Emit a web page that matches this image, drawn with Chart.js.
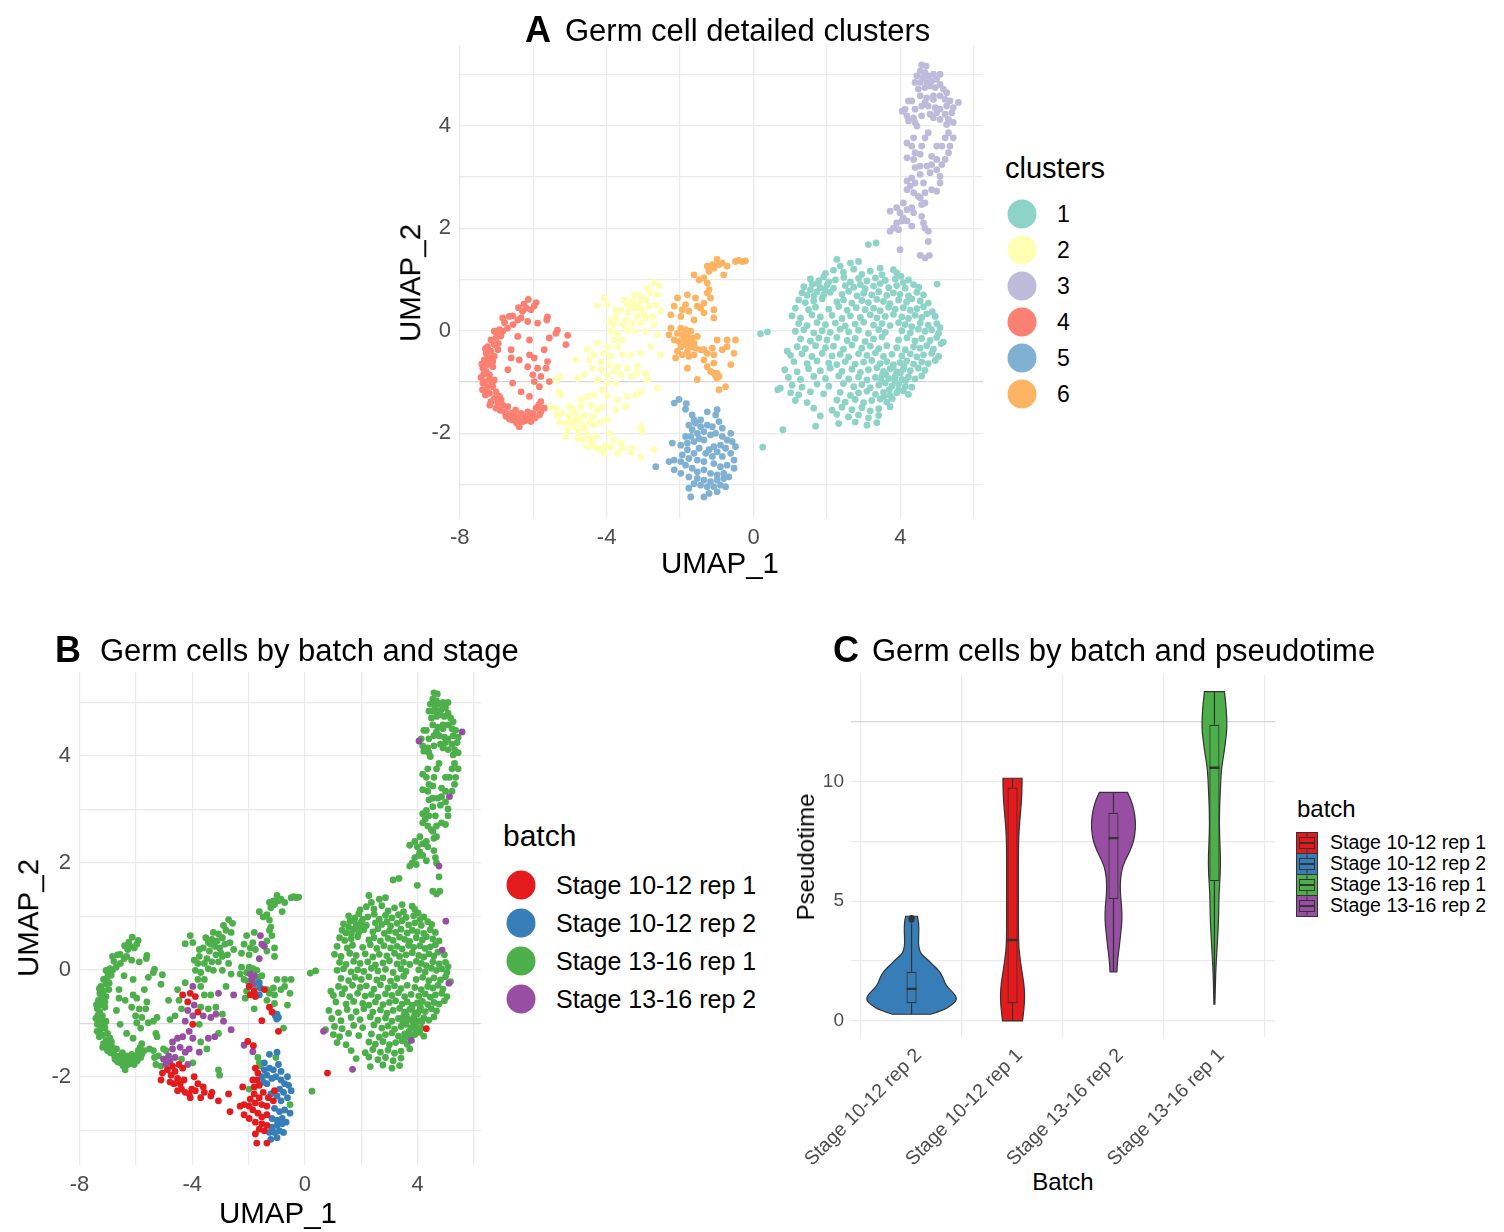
<!DOCTYPE html>
<html>
<head>
<meta charset="utf-8">
<script src="https://cdn.jsdelivr.net/npm/chart.js@4.4.1/dist/chart.umd.min.js"></script>
<style>
  body { margin: 0; background: #fff; }
  #fig { position: relative; width: 1504px; height: 1232px; overflow: hidden; background: #fff;
         font-family: "Liberation Sans", Arial, Helvetica, sans-serif; color: #000; }
  canvas { position: absolute; }
  .t { position: absolute; white-space: nowrap; line-height: 1; }
  .vc { transform: translateY(-50%); }
  .cc { transform: translate(-50%, -50%); }
  .rot { transform: translate(-50%, -50%) rotate(-90deg); }
  .dot { position: absolute; border-radius: 50%; transform: translate(-50%, -50%); }
  .key { position: absolute; }
</style>
</head>
<body>
<div id="fig">
  <canvas id="chartA" width="610" height="550" style="left:380px;top:40px"></canvas>
  <canvas id="chartB" width="490" height="560" style="left:0px;top:660px"></canvas>
  <canvas id="chartC" width="510" height="500" style="left:780px;top:665px"></canvas>

  <!-- panel titles -->
  <div class="t vc" style="left:525px;top:30px;font-size:36px;font-weight:bold">A</div>
  <div class="t vc" style="left:565px;top:30px;font-size:31px">Germ cell detailed clusters</div>
  <div class="t vc" style="left:55px;top:650px;font-size:36px;font-weight:bold">B</div>
  <div class="t vc" style="left:100px;top:650px;font-size:31px">Germ cells by batch and stage</div>
  <div class="t vc" style="left:833px;top:650px;font-size:36px;font-weight:bold">C</div>
  <div class="t vc" style="left:872px;top:650px;font-size:31px">Germ cells by batch and pseudotime</div>

  <!-- axis titles -->
  <div class="t cc" style="left:720px;top:563px;font-size:29.5px">UMAP_1</div>
  <div class="t rot" style="left:410px;top:283px;font-size:29.5px">UMAP_2</div>
  <div class="t cc" style="left:278px;top:1213px;font-size:29.5px">UMAP_1</div>
  <div class="t rot" style="left:28px;top:918px;font-size:29.5px">UMAP_2</div>
  <div class="t cc" style="left:1063px;top:1182px;font-size:24px">Batch</div>
  <div class="t rot" style="left:806px;top:857px;font-size:24px">Pseudotime</div>
</div>

<script>
// ---- categories and colours ----
const clusterNames = ["1", "2", "3", "4", "5", "6"];
const clusterColors = ["#8DD3C7", "#FFFFB3", "#BEBADA", "#FB8072", "#80B1D3", "#FDB462"];
const batchNames = ["Stage 10-12 rep 1", "Stage 10-12 rep 2", "Stage 13-16 rep 1", "Stage 13-16 rep 2"];
const batchColors = ["#E41A1C", "#377EB8", "#4DAF4A", "#984EA3"];

// ---- cells: [UMAP_1, UMAP_2, batch index] grouped by cluster ----
const cluster1 = [
[2.27,1.39,2],[2.64,1.32,2],[2.86,1.35,2],[2.36,1.26,2],[3.45,1.22,2],[3.81,1.19,2],
[1.96,1.12,2],[2.18,1.18,2],[2.45,1.14,2],[2.73,1.20,2],[2.95,1.10,2],[3.18,1.16,2],[3.50,1.09,2],[3.90,1.13,2],[4.02,1.06,2],
[1.55,1.01,2],[1.78,0.97,2],[1.91,1.05,2],[2.23,0.99,2],[2.46,1.04,2],[2.64,0.95,2],[2.86,1.02,2],[3.09,0.97,2],[3.32,1.03,2],[3.59,0.98,2],[3.86,1.01,2],[4.08,0.94,2],[4.22,0.99,2],
[1.37,0.86,2],[1.60,0.91,2],[1.82,0.84,2],[2.00,0.89,2],[2.18,0.83,2],[2.50,0.88,2],[2.73,0.85,2],[2.91,0.90,2],[3.04,0.82,2],[3.27,0.87,2],[3.45,0.92,2],[3.68,0.84,2],[3.90,0.88,2],[4.13,0.83,2],[4.36,0.90,2],[4.50,0.85,2],
[1.32,0.74,2],[1.46,0.69,2],[1.73,0.76,2],[1.91,0.70,2],[2.09,0.75,2],[2.41,0.71,2],[2.59,0.77,2],[2.82,0.68,2],[3.00,0.73,2],[3.22,0.70,2],[3.41,0.76,2],[3.63,0.69,2],[3.81,0.74,2],[3.99,0.71,2],[4.22,0.68,2],[4.45,0.75,2],[4.63,0.70,2],
[1.23,0.60,2],[1.41,0.55,2],[1.64,0.58,2],[1.87,0.62,2],[2.27,0.56,2],[2.45,0.60,2],[2.68,0.54,2],[2.95,0.59,2],[3.13,0.55,2],[3.36,0.61,2],[3.54,0.57,2],[3.72,0.53,2],[3.95,0.60,2],[4.17,0.56,2],[4.31,0.62,2],[4.54,0.58,2],[4.76,0.54,2],
[1.14,0.44,2],[1.50,0.41,2],[1.69,0.46,2],[2.05,0.42,2],[2.32,0.47,2],[2.55,0.40,2],[2.80,0.45,2],[3.04,0.41,2],[3.27,0.44,2],[3.45,0.39,2],[3.68,0.46,2],[3.86,0.42,2],[4.08,0.45,2],[4.27,0.40,2],[4.45,0.43,2],[4.63,0.47,2],[4.87,0.37,3],
[1.05,0.29,2],[1.28,0.25,2],[1.59,0.31,2],[1.82,0.27,2],[2.14,0.30,2],[2.41,0.24,2],[2.64,0.29,2],[2.91,0.26,2],[3.18,0.31,2],[3.36,0.25,2],[3.59,0.28,2],[3.81,0.32,2],[4.04,0.27,2],[4.22,0.24,2],[4.40,0.30,2],[4.58,0.26,2],[4.72,0.33,2],[4.95,0.28,2],
[1.23,0.14,2],[1.46,0.10,2],[1.73,0.16,2],[1.96,0.12,2],[2.23,0.15,2],[2.50,0.09,2],[2.77,0.13,2],[3.00,0.17,2],[3.27,0.11,2],[3.50,0.14,2],[3.72,0.10,2],[3.95,0.16,2],[4.13,0.12,2],[4.31,0.08,2],[4.54,0.15,2],[4.76,0.11,2],[4.99,0.14,2],[5.08,0.06,2],
[1.14,-0.01,2],[1.37,0.02,2],[1.64,-0.04,2],[1.87,0.00,2],[2.09,-0.03,2],[2.36,0.03,2],[2.59,-0.02,2],[2.86,0.01,2],[3.13,-0.05,2],[3.41,0.02,2],[3.59,-0.03,2],[4.04,0.00,2],[4.27,-0.04,2],[4.49,0.03,2],[4.67,-0.01,2],[4.85,0.02,2],[5.04,-0.05,2],
[1.28,-0.16,2],[1.55,-0.20,2],[1.78,-0.14,2],[2.00,-0.18,2],[2.27,-0.13,2],[2.55,-0.19,2],[2.77,-0.15,2],[3.04,-0.21,2],[3.27,-0.16,2],[3.50,-0.12,2],[3.95,-0.18,2],[4.18,-0.14,2],[4.40,-0.20,2],[4.58,-0.15,2],[4.81,-0.19,2],[4.99,-0.13,2],[5.17,-0.22,2],
[0.92,-0.40,2],[1.19,-0.31,2],[1.41,-0.35,2],[1.69,-0.29,2],[1.96,-0.33,2],[2.18,-0.30,2],[2.45,-0.36,2],[2.68,-0.28,2],[2.95,-0.34,2],[3.18,-0.30,2],[3.41,-0.35,2],[3.63,-0.29,2],[3.90,-0.33,2],[4.13,-0.37,2],[4.36,-0.31,2],[4.54,-0.34,2],[4.72,-0.29,2],[4.90,-0.36,2],[5.11,-0.25,3],
[1.01,-0.48,2],[1.32,-0.45,2],[1.59,-0.50,2],[1.87,-0.44,2],[2.14,-0.49,2],[2.36,-0.46,2],[2.59,-0.51,2],[2.86,-0.45,2],[3.09,-0.48,2],[3.32,-0.43,2],[3.54,-0.50,2],[3.77,-0.46,2],[4.04,-0.49,2],[4.27,-0.45,2],[4.45,-0.51,2],[4.63,-0.47,2],[4.85,-0.44,2],[5.04,-0.50,2],
[1.10,-0.60,2],[1.46,-0.64,2],[1.73,-0.59,2],[2.05,-0.63,2],[2.27,-0.66,2],[2.50,-0.60,2],[2.77,-0.65,2],[3.00,-0.61,2],[3.22,-0.58,2],[3.45,-0.64,2],[3.63,-0.60,2],[3.81,-0.66,2],[3.99,-0.62,2],[4.17,-0.59,2],[4.36,-0.65,2],[4.58,-0.61,2],[4.76,-0.64,2],[4.95,-0.58,2],
[0.85,-0.76,2],[1.19,-0.80,2],[1.50,-0.74,2],[1.82,-0.78,2],[2.09,-0.73,2],[2.41,-0.79,2],[2.68,-0.75,2],[2.91,-0.81,2],[3.13,-0.76,2],[3.36,-0.72,2],[3.54,-0.79,2],[3.72,-0.74,2],[3.90,-0.80,2],[4.08,-0.75,2],[4.27,-0.78,2],[4.49,-0.73,2],[4.67,-0.77,2],
[0.95,-0.91,2],[1.28,-0.95,2],[1.64,-0.89,2],[1.96,-0.93,2],[2.32,-0.88,2],[2.59,-0.94,2],[2.86,-0.90,2],[3.09,-0.96,2],[3.32,-0.91,2],[3.50,-0.87,2],[3.68,-0.93,2],[3.86,-0.89,2],[4.04,-0.95,2],[4.22,-0.90,2],[4.40,-0.94,2],[4.58,-0.88,2],
[0.73,-1.12,2],[1.05,-1.06,2],[1.32,-1.10,2],[1.73,-1.04,2],[2.05,-1.08,2],[2.45,-1.03,2],[2.73,-1.09,2],[2.95,-1.05,2],[3.18,-1.11,2],[3.41,-1.06,2],[3.59,-1.02,2],[3.77,-1.08,2],[3.95,-1.04,2],[4.13,-1.09,2],[4.31,-1.10,0],
[1.01,-1.21,2],[1.23,-1.25,2],[1.55,-1.19,2],[1.91,-1.23,2],[2.36,-1.20,2],[2.64,-1.26,2],[2.86,-1.21,2],[3.09,-1.18,2],[3.32,-1.24,2],[3.54,-1.20,2],[3.72,-1.26,2],[3.90,-1.21,2],[4.08,-1.17,2],[4.22,-1.24,2],
[1.14,-1.36,2],[1.46,-1.40,2],[2.27,-1.35,2],[2.50,-1.39,2],[2.77,-1.34,2],[3.00,-1.40,2],[3.22,-1.36,2],[3.45,-1.33,2],[3.63,-1.39,2],[3.78,-1.32,3],
[1.64,-1.51,2],[2.14,-1.55,2],[2.41,-1.49,2],[2.68,-1.54,2],[2.95,-1.50,2],[3.18,-1.56,2],[3.41,-1.52,2],[3.72,-1.48,2],
[1.82,-1.66,2],[2.27,-1.63,2],[2.59,-1.68,2],[2.86,-1.64,2],[3.13,-1.70,2],[3.41,-1.65,2],
[2.32,-1.81,2],[2.77,-1.78,2],[3.09,-1.84,2],[3.36,-1.79,2],
[3.60,-0.85,2],[3.85,-0.98,2],[4.00,-0.82,2],[3.70,-1.15,2],[3.95,-1.15,2],[4.15,-0.97,2],[3.48,-0.98,2],[3.80,-0.70,2],[4.10,-0.70,2],[3.55,-1.28,2],
[1.55,0.80,2],[1.75,0.92,2],[2.05,0.95,2],[1.65,0.68,2],[1.95,0.80,2],
[0.19,-0.06,2],[0.38,-0.02,2],[3.13,1.68,2],[3.34,1.71,2],[0.80,-1.93,0],[1.69,-1.86,3],[5.00,0.91,3],[0.66,-1.15,3],[0.25,-2.27,2]
];

const cluster2 = [
[-2.71,0.94,2],[-2.57,0.87,2],[-2.80,0.74,2],[-2.62,0.70,2],[-3.07,0.67,2],[-3.25,0.70,2],[-3.30,0.57,2],[-3.12,0.54,2],[-2.93,0.60,2],[-3.43,0.51,2],
[-3.20,0.44,2],[-3.03,0.41,2],[-2.84,0.48,2],[-2.66,0.51,2],[-2.53,0.38,2],[-3.61,0.41,2],[-3.39,0.35,2],[-3.16,0.28,2],[-2.93,0.25,2],[-2.75,0.28,2],
[-3.48,0.21,2],[-3.30,0.15,2],[-3.07,0.15,2],[-3.75,0.25,2],[-3.57,0.12,2],[-3.80,0.12,2],[-3.89,-0.01,2],[-3.70,-0.05,2],[-3.43,0.02,2],[-3.25,-0.01,2],
[-2.93,-0.01,2],[-2.62,-0.08,2],[-2.71,0.12,2],[-3.98,0.51,2],[-4.07,0.64,2],[-4.25,0.49,2],[-2.89,0.83,2],[-3.52,0.60,2],[-3.34,0.48,2],[-2.98,0.31,2],
[-3.75,0.38,2],[-3.93,0.18,2],
[-3.80,-0.18,2],[-3.57,-0.18,2],[-3.98,-0.31,3],[-3.70,-0.31,2],[-4.25,-0.24,2],[-4.52,-0.37,2],[-4.34,-0.47,0],[-4.07,-0.44,0],[-3.89,-0.50,0],[-3.57,-0.47,2],
[-3.34,-0.47,2],[-3.07,-0.44,3],[-2.80,-0.31,2],[-2.53,-0.47,3],[-4.16,-0.60,0],[-3.93,-0.66,3],[-3.70,-0.70,2],[-3.43,-0.73,2],[-3.16,-0.70,2],[-2.93,-0.83,2],
[-3.61,-0.86,3],[-4.16,-0.76,3],[-4.38,-0.73,2],[-3.98,-0.86,3],[-4.61,-0.86,2],[-4.79,-0.93,2],[-4.25,-0.96,3],[-3.98,-1.02,0],[-3.75,-1.02,2],[-2.89,-0.96,3],
[-2.62,-1.12,3],[-3.16,-0.83,3],[-3.34,-0.89,3],[-4.47,-0.57,2],[-4.84,-0.57,2],[-3.80,-0.79,0],[-4.11,-1.15,3],[-4.34,-1.25,3],[-4.52,-1.28,3],[-3.98,-1.28,3],
[-3.70,-1.35,2],[-3.43,-1.28,3],[-3.20,-1.25,3],[-3.07,-1.19,2],[-3.48,-1.48,2],[-3.75,-1.54,3],[-4.11,-1.48,3],
[-5.52,-1.48,2],[-5.38,-1.51,2],[-5.25,-1.25,2],[-5.29,-1.19,2],[-5.20,-1.61,2],[-5.02,-1.67,3],[-5.29,-1.77,2],[-5.11,-1.80,2],[-4.93,-1.77,3],[-4.79,-1.71,3],
[-4.88,-1.87,0],[-4.70,-1.80,0],[-5.06,-1.93,0],[-4.75,-1.97,0],[-4.61,-1.90,0],[-4.52,-2.03,0],[-4.79,-2.10,0],[-4.65,-2.13,0],[-4.43,-2.13,0],[-4.29,-2.06,0],
[-4.38,-2.23,0],[-4.52,-2.26,0],[-4.25,-2.29,0],[-4.11,-2.32,0],[-4.02,-2.23,0],[-4.07,-2.39,0],[-4.84,-1.61,3],[-4.61,-1.64,3],[-4.47,-1.77,0],[-4.34,-1.84,0],
[-4.16,-1.77,3],[-3.98,-1.74,2],[-4.25,-1.54,3],[-4.70,-1.48,3],[-4.43,-1.45,3],[-5.11,-2.06,0],[-3.89,-2.26,0],[-3.61,-2.19,0],[-3.57,-2.29,0],[-3.70,-2.39,0],
[-3.34,-2.36,0],[-3.07,-2.45,0],[-3.30,-2.29,0],[-3.80,-2.13,0],[-3.93,-2.00,0],[-2.71,-2.32,0],[-3.07,-1.87,2],[-3.03,-1.97,2],[-4.93,-1.51,2],[-5.34,-1.64,2],
[-5.02,-1.48,2],[-4.70,-1.35,3],[-4.38,-1.67,2],[-5.25,-0.89,2],[-5.38,-0.96,2]
];

const cluster3 = [
[4.58,5.18,2],[4.70,5.16,2],[4.54,5.06,2],[4.67,5.03,2],[4.45,4.97,2],[4.61,4.93,2],[4.76,4.97,2],[4.90,5.00,2],[5.08,5.00,2],[4.99,4.90,2],
[4.85,4.87,2],[4.72,4.84,2],[4.54,4.84,2],[4.40,4.84,2],[4.49,4.71,2],[4.67,4.74,2],[4.81,4.77,2],[4.95,4.74,2],[5.08,4.80,2],[5.17,4.71,2],
[5.26,4.64,2],[5.08,4.58,2],[4.90,4.58,2],[4.72,4.54,2],[4.54,4.58,2],[4.67,4.45,2],[4.90,4.51,2],[5.22,4.51,2],[5.35,4.48,2],[5.58,4.45,3],
[4.22,4.48,2],[4.31,4.48,2],[4.13,4.32,2],[4.40,4.32,2],[4.58,4.38,2],[4.76,4.38,2],[4.95,4.35,2],[5.08,4.32,2],[5.26,4.38,2],[5.44,4.35,2],
[5.40,4.25,2],[5.22,4.22,2],[4.99,4.25,2],[4.81,4.22,2],[4.58,4.19,2],[4.36,4.15,2],[4.18,4.19,2],[4.22,4.09,2],[4.40,4.06,2],[4.45,3.99,2],
[5.08,4.12,2],[5.31,4.12,2],[5.44,4.06,2],[5.26,4.02,2],[4.90,4.15,2],[4.05,4.28,3],
[4.76,3.86,2],[4.67,3.76,2],[4.36,3.76,2],[4.18,3.66,2],[4.31,3.60,2],[4.58,3.60,2],[4.40,3.47,2],[4.54,3.44,2],[4.18,3.37,2],[4.36,3.34,2],
[4.85,3.40,2],[4.99,3.34,2],[5.22,3.34,2],[5.31,3.47,2],[5.35,3.60,2],[5.31,3.86,2],[5.22,3.76,2],[5.13,3.60,2],[5.44,3.76,2],[4.99,3.60,2],
[4.40,3.18,2],[4.54,3.21,2],[4.72,3.21,2],[4.85,3.24,2],[4.99,3.14,2],[5.08,3.01,2],[5.13,3.24,3],[4.81,3.08,2],[4.54,3.05,2],[4.31,2.98,2],
[4.18,2.92,2],[4.27,2.82,2],[4.40,2.88,2],[4.18,2.75,2],[4.36,2.69,2],[4.49,2.62,2],[4.67,2.69,2],[4.85,2.75,2],[4.99,2.72,2],[5.08,2.88,2],[4.63,2.88,2],
[4.08,2.49,2],[3.90,2.40,2],[3.72,2.33,2],[3.99,2.30,2],[4.18,2.36,2],[4.31,2.40,2],[4.54,2.59,2],[4.58,2.46,2],[4.67,2.49,2],[4.36,2.30,2],
[4.08,2.20,2],[3.90,2.10,2],[4.18,2.14,2],[4.31,2.04,2],[4.04,2.14,2],[3.81,2.00,2],[3.95,1.97,2],[3.72,1.94,2],[4.63,2.10,2],[4.67,2.00,2],
[4.76,1.94,3],[4.58,2.23,2],[4.76,1.74,2],[3.99,1.58,2],[4.54,1.47,2],[4.67,1.42,2],[4.79,1.47,2]
];

const cluster4 = [
[-6.13,0.61,2],[-5.92,0.55,2],[-6.19,0.44,2],[-6.06,0.41,2],[-6.29,0.38,2],[-5.97,0.48,2],[-6.33,0.25,2],[-6.15,0.18,2],[-6.42,0.21,2],[-6.56,0.29,2],
[-6.65,0.28,2],[-6.83,0.25,2],[-6.78,0.16,2],[-6.92,0.02,2],[-7.06,-0.01,2],[-6.83,-0.01,2],[-5.61,0.27,2],[-5.63,0.21,2],[-5.34,0.01,2],[-5.56,-0.14,2],
[-5.88,0.15,2],[-5.06,-0.09,2],[-5.11,-0.27,2],[-5.38,-0.05,2],
[-7.15,-0.18,2],[-7.01,-0.14,2],[-7.24,-0.31,2],[-7.06,-0.27,2],[-7.15,-0.40,2],[-7.28,-0.44,2],[-6.96,-0.37,2],[-7.19,-0.53,2],[-7.33,-0.57,2],[-7.06,-0.50,2],
[-7.24,-0.66,2],[-7.37,-0.73,2],[-7.10,-0.70,2],[-7.28,-0.79,2],[-7.42,-0.91,2],[-7.19,-0.86,2],[-7.33,-0.99,2],[-7.06,-0.96,2],[-7.24,-1.09,2],[-7.37,-1.02,2],
[-7.10,-1.09,2],[-7.19,-1.22,2],[-7.01,-1.19,2],[-7.28,-1.15,2],[-7.06,-1.32,2],[-6.92,-1.28,2],[-7.15,-1.38,2],[-6.96,-1.41,2],[-6.83,-1.45,2],[-7.01,-1.51,2],
[-6.78,-1.58,2],[-6.69,-1.48,2],[-6.60,-1.61,2],[-6.74,-1.67,2],[-6.51,-1.64,2],[-6.42,-1.71,2],[-6.56,-1.74,2],[-6.33,-1.61,2],[-6.24,-1.67,2],[-6.15,-1.58,2],
[-6.10,-1.67,2],[-6.29,-1.77,2],[-6.01,-1.61,2],[-5.92,-1.51,2],[-5.79,-1.58,2],[-5.70,-1.51,2],[-5.83,-1.64,2],[-6.38,-1.87,2],[-6.06,-1.77,2],[-6.87,-1.35,2],
[-7.30,-0.35,2],[-7.35,-0.85,2],[-7.40,-0.65,2],[-7.20,-0.95,2],[-7.12,-1.02,2],[-7.30,-1.25,2],[-7.18,-1.45,2],[-6.90,-1.55,2],[-6.65,-1.72,2],[-6.45,-1.80,2],
[-6.20,-1.75,2],[-5.95,-1.70,2],[-7.00,-0.05,2],[-7.10,-0.60,2],[-7.38,-1.15,2],[-7.26,-0.55,2],[-6.95,-0.25,2],[-6.75,-1.62,2],[-6.48,-1.55,2],[-5.85,-1.45,2],
[-6.55,0.12,2],[-6.40,0.45,2],[-6.25,0.52,2],[-6.70,0.05,2],[-6.88,-0.10,2],
[-6.60,-0.53,2],[-6.38,-0.57,2],[-6.10,-0.47,2],[-5.97,-0.53,2],[-5.70,-0.37,2],[-6.15,-0.70,2],[-5.88,-0.73,2],[-6.01,-0.86,2],[-5.79,-0.89,2],[-6.33,-1.19,2],
[-5.97,-0.99,2],[-5.56,-0.99,2],[-5.65,-0.73,2],[-6.60,-0.37,2],[-6.42,-0.11,2],[-6.10,-0.18,2],[-6.69,-0.76,2],[-6.56,-1.02,2],[-5.61,-0.60,2],[-5.83,-1.09,2],
[-6.10,-1.28,2],[-5.79,-1.38,2]
];

const cluster5 = [
[-2.16,-1.41,3],[-2.03,-1.34,0],[-1.85,-1.53,3],[-1.83,-1.42,0],[-1.26,-1.58,1],[-0.99,-1.54,1],[-1.03,-1.64,2],[-1.62,-1.74,2],
[-1.76,-1.84,0],[-1.58,-1.80,2],[-1.44,-1.87,1],[-1.67,-1.93,0],[-1.53,-2.00,1],[-1.35,-1.97,1],[-1.71,-2.06,0],[-1.48,-2.10,1],[-1.62,-2.16,0],[-1.35,-2.13,1],
[-1.80,-2.19,0],[-1.17,-2.03,1],[-1.26,-1.84,1],[-1.12,-1.87,1],[-0.94,-1.77,1],[-1.03,-2.00,1],[-0.85,-2.06,1],[-0.72,-2.13,1],[-0.58,-2.16,1],[-0.90,-2.23,1],
[-1.08,-2.26,0],[-1.21,-2.32,1],[-0.99,-2.36,1],[-0.76,-2.29,1],[-0.62,-2.39,1],[-0.85,-2.45,1],[-1.12,-2.45,0],[-1.30,-2.39,0],[-1.48,-2.29,0],[-1.62,-2.39,0],
[-1.80,-2.32,0],[-1.94,-2.42,0],[-1.76,-2.49,0],[-1.53,-2.52,0],[-1.35,-2.55,0],[-1.08,-2.59,1],[-0.90,-2.65,1],[-0.72,-2.62,1],[-0.53,-2.68,1],[-0.81,-2.78,1],
[-0.99,-2.81,1],[-1.17,-2.78,1],[-1.35,-2.71,0],[-1.53,-2.75,0],[-1.67,-2.68,0],[-1.85,-2.62,0],[-1.98,-2.55,0],[-2.16,-2.71,0],[-1.98,-2.78,0],[-1.76,-2.85,0],
[-1.53,-2.88,0],[-1.35,-2.91,0],[-1.17,-2.94,1],[-0.99,-2.91,1],[-0.81,-2.88,1],[-0.67,-2.85,1],[-1.26,-3.04,1],[-1.44,-3.01,0],[-1.62,-2.98,0],[-1.76,-3.07,0],
[-1.08,-3.04,1],[-0.90,-3.01,1],[-1.21,-3.17,1],[-1.35,-3.24,0],[-1.71,-3.24,0],[-0.99,-3.14,1],[-0.76,-3.04,1],[-0.53,-2.52,2],[-0.49,-2.26,1],[-0.62,-2.00,1],
[-2.16,-2.52,0],[-2.30,-2.55,0],[-2.66,-2.65,0],[-2.21,-2.19,0],[-1.98,-2.23,2],[-1.85,-2.06,0],[-1.67,-1.64,2],[-1.44,-1.74,1],[-0.85,-1.90,1]
];

const cluster6 = [
[-1.62,1.09,2],[-1.35,1.03,2],[-1.48,0.99,2],[-1.21,1.16,2],[-1.12,1.29,2],[-0.99,1.39,2],[-0.85,1.32,2],[-0.72,1.26,2],[-0.81,1.09,2],[-0.49,1.35,2],
[-0.31,1.35,2],[-0.40,1.37,2],[-1.08,1.22,2],[-1.26,1.26,2],[-0.94,1.29,2],[-0.22,1.36,2],
[-1.26,0.74,2],[-1.17,0.64,2],[-1.35,0.54,2],[-1.44,0.44,3],[-1.26,0.93,2],[-1.80,0.70,2],[-2.07,0.64,2],[-1.85,0.51,2],[-1.94,0.41,2],[-1.76,0.38,2],
[-1.98,0.28,2],[-2.25,0.31,2],[-1.62,0.21,3],[-1.35,0.35,2],[-1.08,0.25,2],[-1.08,0.41,2],[-1.21,0.80,2],[-1.53,0.48,3],[-2.16,0.48,2],[-1.58,0.64,3],
[-1.98,0.05,2],[-1.85,0.02,2],[-1.71,-0.01,2],[-2.07,-0.05,2],[-1.94,-0.08,3],[-1.80,-0.11,3],[-1.67,-0.14,2],[-1.89,-0.18,3],[-1.76,-0.21,2],[-2.03,-0.21,2],
[-1.62,-0.24,1],[-1.85,-0.27,3],[-1.98,-0.31,0],[-1.71,-0.31,2],[-2.16,-0.18,2],[-2.30,-0.08,2],[-2.25,0.05,2],[-1.53,-0.11,2],[-1.58,-0.34,1],[-1.80,-0.40,0],
[-2.07,-0.40,2],[-1.44,-0.37,0],[-1.94,-0.47,0],[-1.76,-0.50,0],[-2.12,-0.53,2],[-1.62,-0.47,1],
[-1.26,-0.44,2],[-0.99,-0.18,2],[-0.72,-0.18,2],[-0.49,-0.18,2],[-0.72,-0.31,2],[-0.53,-0.44,2],[-0.62,-0.66,2],[-1.08,-0.63,2],[-1.26,-0.70,0],[-1.80,-0.73,2],
[-0.99,-0.83,1],[-0.94,-0.89,1],[-0.76,-1.09,2],[-0.94,-1.15,0],[-1.35,-0.37,2],[-1.12,-0.34,2],[-1.08,-0.47,2],[-0.85,-0.37,2],[-1.17,-0.79,0],[-1.35,-0.57,2],
[-1.05,-0.86,1],[-1.00,-0.92,1],[-1.08,-0.82,1],[-1.53,-0.95,0]
];

// ---- violin panel: batches in axis order ----
const violinBatches = ["Stage 10-12 rep 2", "Stage 10-12 rep 1", "Stage 13-16 rep 2", "Stage 13-16 rep 1"];
const violinColors = ["#377EB8", "#E41A1C", "#984EA3", "#4DAF4A"];
// density outline per batch: [pseudotime, relative density], bottom to top
const densityS1012r2 = [[0.28,0.42],[0.46,0.71],[0.67,0.89],[0.88,1.00],[1.09,0.96],[1.30,0.85],[1.51,0.75],[1.72,0.71],[1.93,0.66],[2.14,0.58],[2.34,0.47],[2.55,0.36],[2.76,0.22],[2.97,0.17],[3.25,0.15],[3.67,0.16],[4.09,0.16],[4.37,0.13]];
const densityS1012r1 = [[0.00,0.22],[0.46,0.25],[1.02,0.27],[1.58,0.25],[2.14,0.20],[2.69,0.16],[3.25,0.13],[5.35,0.13],[7.30,0.13],[8.00,0.145],[8.56,0.17],[9.26,0.20],[9.82,0.21],[10.13,0.21]];
const densityS1316r2 = [[2.05,0.076],[2.55,0.09],[3.11,0.13],[3.67,0.16],[4.23,0.19],[4.79,0.18],[5.35,0.15],[5.91,0.15],[6.47,0.20],[6.89,0.31],[7.30,0.41],[7.72,0.47],[8.28,0.49],[8.84,0.45],[9.26,0.38],[9.54,0.31]];
const densityS1316r1 = [[0.70,0.01],[1.40,0.02],[2.10,0.03],[2.79,0.05],[3.63,0.076],[4.47,0.095],[5.31,0.10],[6.15,0.13],[6.85,0.135],[7.82,0.11],[8.80,0.11],[9.78,0.135],[10.48,0.15],[11.18,0.21],[11.74,0.25],[12.30,0.28],[13.00,0.26],[13.42,0.24],[13.75,0.22]];
const violinDensity = [densityS1012r2, densityS1012r1, densityS1316r2, densityS1316r1];
// boxplot summaries: [lower whisker, q1, median, q3, upper whisker]
const boxStats = [[0.28,0.74,1.34,2.05,4.07],[0.00,0.74,3.38,9.74,10.13],[2.05,5.09,7.63,8.69,9.53],[0.70,5.83,10.57,12.36,13.75]];
const outliers = [[0,4.22],[0,4.30]];

// ---- ticks ----
const umapXTicks = [-8, -4, 0, 4];
const umapYTicks = [-2, 0, 2, 4];
const pseudoTicks = [0, 5, 10];

const FONT = '"Liberation Sans", Arial, Helvetica, sans-serif';
Chart.defaults.font.family = FONT;
Chart.defaults.animation = false;

const clusters = [cluster1, cluster2, cluster3, cluster4, cluster5, cluster6];
const allCells = clusters.flat();

function gridColor(darkValue) {
  return ctx => (ctx.tick && ctx.tick.value === darkValue) ? '#D7D7D7' : '#EBEBEB';
}
// fixed axis sizes so the plotting area sits exactly where intended
function fixX(h) { return s => { s.height = h; s.paddingLeft = 0; s.paddingRight = 0; }; }
function fixY(w) { return s => { s.width = w; s.paddingTop = 0; s.paddingBottom = 0; }; }

function umapScales(xAxisHeight) {
  return {
    x: {
      type: 'linear', min: -8.02, max: 6.25,
      ticks: { stepSize: 2, includeBounds: false, autoSkip: false, maxRotation: 0, padding: 7,
               color: '#4D4D4D', font: { size: 22 },
               callback: v => umapXTicks.includes(v) ? String(v) : '' },
      grid: { drawTicks: false, color: gridColor(null), lineWidth: 1.2 },
      border: { display: false },
      afterFit: fixX(xAxisHeight)
    },
    y: {
      type: 'linear', min: -3.65, max: 5.57,
      ticks: { stepSize: 1, includeBounds: false, autoSkip: false, padding: 8,
               color: '#4D4D4D', font: { size: 22 },
               callback: v => umapYTicks.includes(v) ? String(v) : '' },
      grid: { drawTicks: false, color: gridColor(-1), lineWidth: 1.2 },
      border: { display: false },
      afterFit: fixY(79)
    }
  };
}

const baseOpts = {
  responsive: false, devicePixelRatio: 1, events: [],
  plugins: { legend: { display: false }, tooltip: { enabled: false } }
};

// Panel A: cells coloured by cluster
new Chart(document.getElementById('chartA'), {
  type: 'scatter',
  data: {
    datasets: clusters.map((pts, i) => ({
      label: clusterNames[i],
      data: pts.map(p => ({ x: p[0], y: p[1] })),
      backgroundColor: clusterColors[i], pointRadius: 3.4, pointBorderWidth: 0
    }))
  },
  options: Object.assign({}, baseOpts, {
    layout: { padding: { top: 5, right: 7, bottom: 0, left: 0 } },
    scales: umapScales(72)
  })
});

// Panel B: same cells coloured by batch (majority batch underneath)
new Chart(document.getElementById('chartB'), {
  type: 'scatter',
  data: {
    datasets: batchNames.map((n, b) => ({
      label: n,
      data: allCells.filter(p => p[2] === b).map(p => ({ x: p[0], y: p[1] })),
      backgroundColor: batchColors[b], pointRadius: 3.4, pointBorderWidth: 0,
      order: b === 2 ? 1 : 0
    }))
  },
  options: Object.assign({}, baseOpts, {
    layout: { padding: { top: 12, right: 9, bottom: 0, left: 0 } },
    scales: umapScales(55)
  })
});

// Panel C: violins with boxplots
function smoothSide(ctx, pts, first) {
  if (first) ctx.moveTo(pts[0][0], pts[0][1]); else ctx.lineTo(pts[0][0], pts[0][1]);
  for (let i = 1; i < pts.length - 1; i++) {
    const mx = (pts[i][0] + pts[i + 1][0]) / 2, my = (pts[i][1] + pts[i + 1][1]) / 2;
    ctx.quadraticCurveTo(pts[i][0], pts[i][1], mx, my);
  }
  const last = pts[pts.length - 1];
  ctx.lineTo(last[0], last[1]);
}

const violinPlugin = {
  id: 'violins',
  beforeDatasetsDraw(chart) {
    const { ctx, scales: { x, y } } = chart;
    const half = 0.45 * (x.getPixelForValue(1) - x.getPixelForValue(0));
    ctx.save();
    violinDensity.forEach((prof, i) => {
      const cx = x.getPixelForValue(i);
      const left = prof.map(([v, d]) => [cx - d * half, y.getPixelForValue(v)]);
      const right = prof.map(([v, d]) => [cx + d * half, y.getPixelForValue(v)]).reverse();
      ctx.beginPath();
      smoothSide(ctx, left, true);
      smoothSide(ctx, right, false);
      ctx.closePath();
      ctx.fillStyle = violinColors[i];
      ctx.fill();
      ctx.lineWidth = 1.2;
      ctx.strokeStyle = '#333333';
      ctx.stroke();
    });
    // whiskers
    ctx.beginPath();
    boxStats.forEach((s, i) => {
      const cx = x.getPixelForValue(i);
      ctx.moveTo(cx, y.getPixelForValue(s[0])); ctx.lineTo(cx, y.getPixelForValue(s[1]));
      ctx.moveTo(cx, y.getPixelForValue(s[3])); ctx.lineTo(cx, y.getPixelForValue(s[4]));
    });
    ctx.lineWidth = 1.2;
    ctx.strokeStyle = '#333333';
    ctx.stroke();
    ctx.restore();
  },
  afterDatasetsDraw(chart) {
    const { ctx, scales: { x, y } } = chart;
    const hw = 0.05 * (x.getPixelForValue(1) - x.getPixelForValue(0));
    ctx.save();
    ctx.beginPath();
    boxStats.forEach((s, i) => {
      const cx = x.getPixelForValue(i), py = y.getPixelForValue(s[2]);
      ctx.moveTo(cx - hw, py); ctx.lineTo(cx + hw, py);
    });
    ctx.lineWidth = 2.4;
    ctx.strokeStyle = '#333333';
    ctx.stroke();
    ctx.restore();
  }
};

new Chart(document.getElementById('chartC'), {
  type: 'bar',
  data: {
    datasets: [
      {
        type: 'bar',
        data: boxStats.map((s, i) => ({ x: i, y: [s[1], s[3]] })),
        backgroundColor: violinColors, borderColor: '#333333', borderWidth: 1.2, borderSkipped: false,
        categoryPercentage: 1, barPercentage: 0.1
      },
      {
        type: 'scatter',
        data: outliers.map(o => ({ x: o[0], y: o[1] })),
        backgroundColor: '#333333', pointRadius: 3, pointBorderWidth: 0
      }
    ]
  },
  options: Object.assign({}, baseOpts, {
    layout: { padding: { top: 10, right: 15, bottom: 0, left: 0 } },
    scales: {
      x: {
        type: 'linear', min: -0.6, max: 3.6, offset: false,
        ticks: { stepSize: 1, includeBounds: false, autoSkip: false, minRotation: 45, maxRotation: 45,
                 padding: 7, labelOffset: 7,
                 color: '#4D4D4D', font: { size: 19.5 },
                 callback: v => violinBatches[v] !== undefined ? violinBatches[v] : '' },
        grid: { drawTicks: false, color: '#EBEBEB', lineWidth: 1.2 },
        border: { display: false },
        afterFit: fixX(128)
      },
      y: {
        type: 'linear', min: -0.67, max: 14.44,
        ticks: { stepSize: 2.5, includeBounds: false, autoSkip: false, padding: 7,
                 color: '#4D4D4D', font: { size: 19 },
                 callback: v => pseudoTicks.includes(v) ? String(v) : '' },
        grid: { drawTicks: false, color: gridColor(12.5), lineWidth: 1.2 },
        border: { display: false },
        afterFit: fixY(71)
      }
    }
  }),
  plugins: [violinPlugin]
});

// ---- legends ----
const fig = document.getElementById('fig');
function addText(text, left, top, size) {
  const d = document.createElement('div');
  d.className = 't vc';
  d.style.left = left + 'px'; d.style.top = top + 'px'; d.style.fontSize = size + 'px';
  d.textContent = text;
  fig.appendChild(d);
}
function addDot(cx, cy, color) {
  const dot = document.createElement('div');
  dot.className = 'dot';
  dot.style.cssText += `left:${cx}px;top:${cy}px;width:29px;height:29px;background:${color}`;
  fig.appendChild(dot);
}

addText('clusters', 1005, 168, 29);
clusterNames.forEach((n, i) => {
  const cy = 214 + 36 * i;
  addDot(1022, cy, clusterColors[i]);
  addText(n, 1057, cy, 23);
});

addText('batch', 503, 836, 30);
batchNames.forEach((n, i) => {
  const cy = 885 + 38 * i;
  addDot(521, cy, batchColors[i]);
  addText(n, 556, cy, 25);
});

addText('batch', 1297, 809, 24);
batchNames.forEach((n, i) => {
  const cy = 843 + 21 * i;
  const k = document.createElement('div');
  k.className = 'key';
  k.style.left = '1296px'; k.style.top = (cy - 11) + 'px';
  k.innerHTML = `<svg width="22" height="22" viewBox="0 0 22 22">
    <rect x="0.5" y="0.5" width="21" height="21" fill="${batchColors[i]}" stroke="#333" stroke-width="1"/>
    <rect x="3.5" y="5.5" width="15" height="11" fill="${batchColors[i]}" stroke="#333" stroke-width="1"/>
    <line x1="3.5" y1="11" x2="18.5" y2="11" stroke="#333" stroke-width="2"/>
    <line x1="11" y1="1.5" x2="11" y2="5.5" stroke="#333" stroke-width="1"/>
    <line x1="11" y1="16.5" x2="11" y2="20.5" stroke="#333" stroke-width="1"/></svg>`;
  fig.appendChild(k);
  addText(n, 1330, cy, 19.5);
});
</script>
</body>
</html>
